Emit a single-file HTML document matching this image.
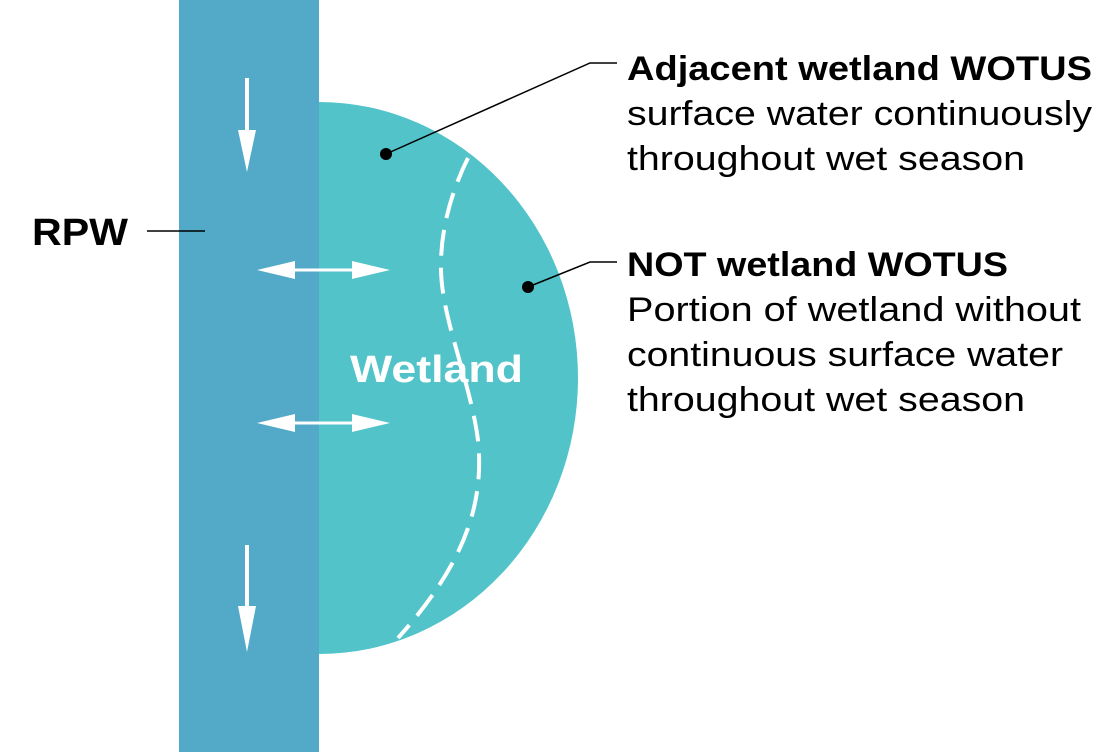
<!DOCTYPE html>
<html><head><meta charset="utf-8"><style>
html,body{margin:0;padding:0;background:#fff;}
svg{display:block;}
</style></head><body>
<svg width="1117" height="752" viewBox="0 0 1117 752" xmlns="http://www.w3.org/2000/svg">
<defs>
<clipPath id="c"><rect x="319" y="0" width="800" height="752"/></clipPath>
</defs>
<ellipse cx="319" cy="378" rx="259" ry="276" fill="#51c3c9" clip-path="url(#c)"/>
<rect x="179" y="0" width="140" height="752" fill="#52aac8"/>
<path d="M468,158 C452,190 440,230 441,270 C442,320 470,380 478,440 C484,500 468,560 398,638" fill="none" stroke="#fff" stroke-width="4" stroke-dasharray="26,12"/>
<g fill="#fff" stroke="#fff">
<line x1="247" y1="78" x2="247" y2="140" stroke-width="4"/>
<polygon points="238,130 256,130 247,172" stroke="none"/>
<line x1="247" y1="545" x2="247" y2="615" stroke-width="4"/>
<polygon points="238,606 256,606 247,652" stroke="none"/>
<line x1="285" y1="270" x2="360" y2="270" stroke-width="3"/>
<polygon points="257,270 295,261 295,279" stroke="none"/>
<polygon points="390,270 352,261 352,279" stroke="none"/>
<line x1="285" y1="423" x2="360" y2="423" stroke-width="3"/>
<polygon points="257,423 295,414 295,432" stroke="none"/>
<polygon points="390,423 352,414 352,432" stroke="none"/>
</g>
<text x="350" y="382" font-family="Liberation Sans, sans-serif" font-weight="bold" font-size="38" fill="#fff" textLength="173" lengthAdjust="spacingAndGlyphs">Wetland</text>
<text x="32" y="245" font-family="Liberation Sans, sans-serif" font-weight="bold" font-size="38" fill="#000" textLength="96" lengthAdjust="spacingAndGlyphs">RPW</text>
<line x1="147" y1="231" x2="205" y2="231" stroke="#000" stroke-width="1.5"/>
<polyline points="386,154 590,63 617,63" fill="none" stroke="#000" stroke-width="1.5"/>
<circle cx="386" cy="154" r="6" fill="#000"/>
<polyline points="528,287 590,262 617,262" fill="none" stroke="#000" stroke-width="1.5"/>
<circle cx="528" cy="287" r="6" fill="#000"/>
<g font-family="Liberation Sans, sans-serif" font-size="34" fill="#000" lengthAdjust="spacingAndGlyphs">
<text x="627" y="80" font-weight="bold" textLength="465" lengthAdjust="spacingAndGlyphs">Adjacent wetland WOTUS</text>
<text x="627" y="125" textLength="465" lengthAdjust="spacingAndGlyphs">surface water continuously</text>
<text x="627" y="170" textLength="398" lengthAdjust="spacingAndGlyphs">throughout wet season</text>
<text x="627" y="276" font-weight="bold" textLength="381" lengthAdjust="spacingAndGlyphs">NOT wetland WOTUS</text>
<text x="627" y="321" textLength="454" lengthAdjust="spacingAndGlyphs">Portion of wetland without</text>
<text x="627" y="366" textLength="436" lengthAdjust="spacingAndGlyphs">continuous surface water</text>
<text x="627" y="411" textLength="398" lengthAdjust="spacingAndGlyphs">throughout wet season</text>
</g>
</svg>
</body></html>
